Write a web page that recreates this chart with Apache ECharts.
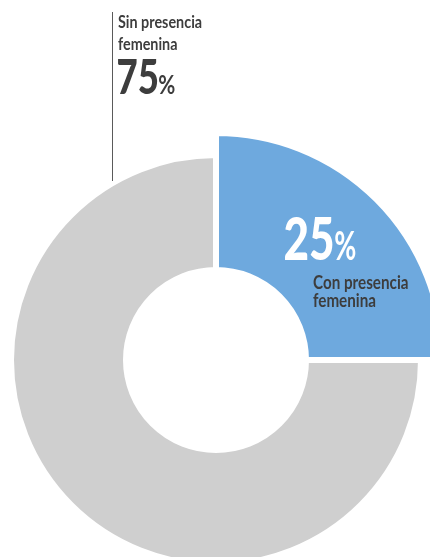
<!DOCTYPE html>
<html><head><meta charset="utf-8">
<script src="https://cdn.jsdelivr.net/npm/echarts@6/dist/echarts.min.js"></script>
<style>html,body{margin:0;padding:0;background:#fff}#c{width:430px;height:557px}</style>
</head><body><div id="c"></div>
<script>
const categories = ['Con presencia femenina', 'Sin presencia femenina'];
const values = [25, 75];
const labelLines = [['Con presencia', 'femenina'], ['Sin presencia', 'femenina']];
const colors = ['#6EA9DE', '#CFCFCF'];

const FAMILY = "Lato, 'Open Sans', sans-serif";
const TEXT_COLOR = '#3d3d3d';
const ctx = document.createElement('canvas').getContext('2d');

function fontOf(size, w) { return (w || 'bold') + ' ' + size + 'px ' + FAMILY; }
function inkMetrics(text, size, baseline, w) {
  ctx.font = fontOf(size, w); ctx.textBaseline = baseline;
  const m = ctx.measureText(text);
  return {asc: m.actualBoundingBoxAscent, left: m.actualBoundingBoxLeft,
          w: m.actualBoundingBoxLeft + m.actualBoundingBoxRight};
}
// font size & horizontal scale so the ink of `text` fits the target box
function fit(text, inkHeight, inkWidth, w) {
  const a = inkMetrics(text, 100, 'alphabetic', w);
  const size = 100 * inkHeight / a.asc;
  const b = inkMetrics(text, size, 'alphabetic', w);
  return {size: size, sx: inkWidth / b.w, w: w};
}
const LH = 200;
function textEl(text, f, left, baselineY, fill) {
  const mid = inkMetrics(text, f.size, 'middle', f.w);
  const alp = inkMetrics(text, f.size, 'alphabetic', f.w);
  const midY = baselineY + mid.asc - alp.asc;
  return {type: 'text', z: 100, x: left + alp.left * f.sx, y: midY - LH / 2,
          scaleX: f.sx, scaleY: 1, originX: 0, originY: 0, silent: true,
          style: {text: text, font: fontOf(f.size, f.w), fill: fill, lineHeight: LH,
                  verticalAlign: 'top', align: 'left'}};
}

const fTop = fit(labelLines[1][0], 13.3, 84, 'bold');
const fBot = fit(labelLines[0][0], 14, 95, 'bold');
const n75 = String(values[1]), n25 = String(values[0]);
const f75 = fit(n75, 34, 39, '900'), p75 = fit('%', 19, 16, 'bold');
const f25 = fit(n25, 43, 48, '900'), p25 = fit('%', 29, 21, 'bold');

const chart = echarts.init(document.getElementById('c'), null, {renderer: 'canvas'});
function dataFor(showIdx) {
  return categories.map((c, i) => ({
    name: c, value: values[i],
    itemStyle: i === showIdx
      ? {color: colors[i], borderColor: '#fff', borderWidth: 6}
      : {color: 'rgba(0,0,0,0)', borderWidth: 0}
  }));
}

chart.setOption({
  animation: false,
  series: [
    {type: 'pie', center: [216, 360], radius: [90, 205], startAngle: 90, clockwise: true,
     label: {show: false}, labelLine: {show: false}, silent: true, data: dataFor(1)},
    {type: 'pie', center: [216, 360], radius: [90, 227], startAngle: 90, clockwise: true,
     label: {show: false}, labelLine: {show: false}, silent: true, data: dataFor(0)}
  ],
  graphic: [
    {type: 'line', z: 100, shape: {x1: 112.5, y1: 12, x2: 112.5, y2: 181}, style: {stroke: '#5a5a5a', lineWidth: 1}},
    textEl(labelLines[1][0], fTop, 118, 28, TEXT_COLOR),
    textEl(labelLines[1][1], fTop, 118, 50, TEXT_COLOR),
    textEl(n75, f75, 118, 94, TEXT_COLOR),
    textEl('%', p75, 159, 94, TEXT_COLOR),
    textEl(n25, f25, 285, 260, '#fff'),
    textEl('%', p25, 335, 260, '#fff'),
    textEl(labelLines[0][0], fBot, 313, 288.5, TEXT_COLOR),
    textEl(labelLines[0][1], fBot, 313, 307, TEXT_COLOR)
  ]
});
</script></body></html>
